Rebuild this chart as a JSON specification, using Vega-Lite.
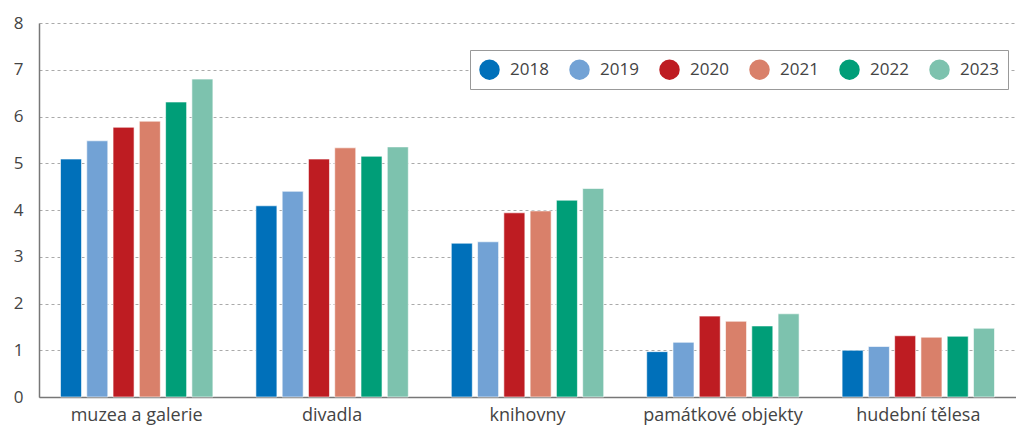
{
  "$schema": "https://vega.github.io/schema/vega-lite/v6.json",
  "width": 977,
  "height": 374,
  "autosize": {"type": "none"},
  "padding": {"left": 39, "top": 23, "right": 0, "bottom": 32},
  "background": "white",
  "config": {"view": {"stroke": null}, "font": "Open Sans", "legend": {"strokeColor": "#999", "fillColor": "white"}},
  "data": {
    "values": [
      {"kat": "muzea a galerie", "rok": "2018", "v": 5.09},
      {"kat": "muzea a galerie", "rok": "2019", "v": 5.48},
      {"kat": "muzea a galerie", "rok": "2020", "v": 5.77},
      {"kat": "muzea a galerie", "rok": "2021", "v": 5.90},
      {"kat": "muzea a galerie", "rok": "2022", "v": 6.31},
      {"kat": "muzea a galerie", "rok": "2023", "v": 6.80},
      {"kat": "divadla", "rok": "2018", "v": 4.09},
      {"kat": "divadla", "rok": "2019", "v": 4.40},
      {"kat": "divadla", "rok": "2020", "v": 5.09},
      {"kat": "divadla", "rok": "2021", "v": 5.33},
      {"kat": "divadla", "rok": "2022", "v": 5.15},
      {"kat": "divadla", "rok": "2023", "v": 5.35},
      {"kat": "knihovny", "rok": "2018", "v": 3.29},
      {"kat": "knihovny", "rok": "2019", "v": 3.32},
      {"kat": "knihovny", "rok": "2020", "v": 3.94},
      {"kat": "knihovny", "rok": "2021", "v": 3.98},
      {"kat": "knihovny", "rok": "2022", "v": 4.21},
      {"kat": "knihovny", "rok": "2023", "v": 4.46},
      {"kat": "památkové objekty", "rok": "2018", "v": 0.97},
      {"kat": "památkové objekty", "rok": "2019", "v": 1.17},
      {"kat": "památkové objekty", "rok": "2020", "v": 1.73},
      {"kat": "památkové objekty", "rok": "2021", "v": 1.62},
      {"kat": "památkové objekty", "rok": "2022", "v": 1.52},
      {"kat": "památkové objekty", "rok": "2023", "v": 1.78},
      {"kat": "hudební tělesa", "rok": "2018", "v": 1.00},
      {"kat": "hudební tělesa", "rok": "2019", "v": 1.08},
      {"kat": "hudební tělesa", "rok": "2020", "v": 1.31},
      {"kat": "hudební tělesa", "rok": "2021", "v": 1.28},
      {"kat": "hudební tělesa", "rok": "2022", "v": 1.30},
      {"kat": "hudební tělesa", "rok": "2023", "v": 1.47}
    ]
  },
  "mark": {"type": "bar", "stroke": "white", "strokeWidth": 0.6},
  "encoding": {
    "x": {
      "field": "kat", "type": "nominal", "sort": null,
      "scale": {"paddingInner": 0.22, "paddingOuter": 0.11},
      "axis": {
        "title": null, "labelAngle": 0, "ticks": false, "labelFontSize": 18,
        "labelColor": "#444", "labelPadding": 9, "domainColor": "#777", "domainWidth": 1.5
      }
    },
    "xOffset": {"field": "rok", "type": "nominal", "scale": {"paddingInner": 0.2}},
    "y": {
      "field": "v", "type": "quantitative",
      "scale": {"domain": [0, 8], "nice": false},
      "axis": {
        "title": null, "values": [0,1,2,3,4,5,6,7,8], "ticks": false,
        "labelFontSize": 17, "labelColor": "#444", "labelPadding": 16,
        "domainColor": "#777", "domainWidth": 1.5,
        "gridColor": "#aaa", "gridDash": [3, 3], "gridWidth": 1
      }
    },
    "color": {
      "field": "rok", "type": "nominal",
      "scale": {
        "domain": ["2018", "2019", "2020", "2021", "2022", "2023"],
        "range": ["#0070BA", "#72A2D5", "#BE1C22", "#D9806A", "#009E78", "#7DC2AE"]
      },
      "legend": {
        "title": null, "orient": "none", "legendX": 431, "legendY": 27,
        "direction": "horizontal", "symbolType": "circle", "symbolSize": 420,
        "symbolStrokeWidth": 0, "labelFontSize": 17, "labelColor": "#444",
        "labelOffset": 10, "columnPadding": 20, "padding": 9,
        "strokeColor": "#999", "fillColor": "white"
      }
    }
  }
}
